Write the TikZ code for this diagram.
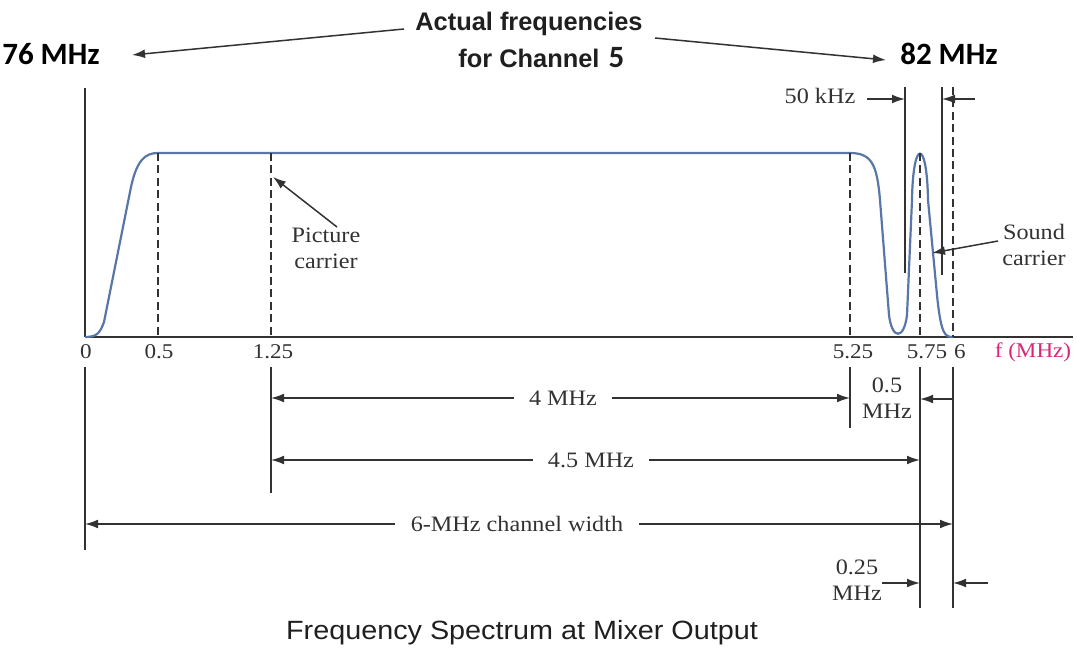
\documentclass[tikz,border=0pt]{standalone}
\usepackage{fontspec}
\setmainfont{Liberation Serif}[FakeStretch=1.1]
\newfontfamily\sansA{Liberation Sans}
\newfontfamily\sansT{Liberation Sans}[FakeStretch=1.09]
\newfontfamily\calib{Carlito}
\usetikzlibrary{arrows.meta}
\definecolor{curveblue}{RGB}{88,118,168}
\definecolor{axmag}{RGB}{214,40,120}
\definecolor{ink}{RGB}{50,50,50}
\begin{document}
\begin{tikzpicture}[x=0.5pt,y=-0.5pt,
  ln/.style={line width=0.75pt, draw=ink},
  dim/.style={line width=0.75pt, draw=ink, -{Latex[length=6.5pt,width=4.4pt]}},
  dsh/.style={line width=0.75pt, draw=ink, dash pattern=on 4pt off 2.2pt},
  lbl/.style={inner sep=0pt, font=\fontsize{11}{13}\selectfont, text=ink, align=center},
  dimlbl/.style={lbl, inner xsep=7.5pt},
  ticklbl/.style={inner sep=0pt, font=\fontsize{10.5}{12}\selectfont, text=ink},
  big/.style={inner sep=0pt, font=\calib\bfseries\fontsize{15.5}{18}\selectfont, text=black},
  topt/.style={inner sep=0pt, font=\sansA\bfseries\fontsize{12.7}{15}\selectfont, text=black!88},
  ]
\useasboundingbox (0,0) rectangle (1077,653);

% ---- top labels ----
\node[big] (f76) at (51,54) {76 MHz};
\node[big] (f82) at (949,54) {82 MHz};
\node[topt] (act) at (529,24) {Actual frequencies};
\node[topt, anchor=west] (ch) at (458,58) {for Channel\hspace{4.5pt}{\calib\bfseries\fontsize{15.5}{18}\selectfont 5}};
\coordinate (aL) at (404,29);
\coordinate (aR) at (655,38);
\coordinate (t76) at (132,55);
\coordinate (t82) at (886,60);
\draw[dim] (aL) -- (t76);
\draw[dim] (aR) -- (t82);

% ---- axes ----
\coordinate (o) at (85,337);
\coordinate (ytop) at (85,88);
\coordinate (e0) at (85,367);
\coordinate (ybot) at (85,550);
\coordinate (xend) at (1073,337);
\draw[ln] (ytop) -- (o);
\draw[ln] (e0) -- (ybot);
\draw[ln] (o) -- (xend);

% ---- spectrum curve ----
\draw[curveblue, line width=1.1pt, line join=round]
  (85,337) .. controls (97,337) and (100,333) .. (104,322)
  -- (130,192) .. controls (136,160) and (145,153) .. (158,153)
  -- (850,153) .. controls (872,153) and (877,165) .. (880,200)
  -- (889,315) .. controls (892,340) and (904,340) .. (907,315)
  -- (912,200) .. controls (913,138) and (927,138) .. (928,200)
  -- (937,295) .. controls (941,335) and (945,337) .. (953,337);

% ---- dashed markers ----
\coordinate (d05t) at (158,153);   \coordinate (d05b) at (158,337);
\coordinate (d125t) at (271,153);  \coordinate (d125b) at (271,337);
\coordinate (d525t) at (850,153);  \coordinate (d525b) at (850,337);
\coordinate (d575t) at (920,153);  \coordinate (d575b) at (920,337);
\coordinate (d6t) at (953,87);     \coordinate (d6b) at (953,337);
\draw[dsh] (d05t) -- (d05b);
\draw[dsh] (d125t) -- (d125b);
\draw[dsh] (d525t) -- (d525b);
\draw[dsh] (d575t) -- (d575b);
\draw[dsh] (d6t) -- (d6b);

% ---- 50 kHz guard lines ----
\coordinate (g1t) at (905,87); \coordinate (g1b) at (905,273);
\coordinate (g2t) at (942,87); \coordinate (g2b) at (942,275);
\draw[ln] (g1t) -- (g1b);
\draw[ln] (g2t) -- (g2b);
\node[lbl] (k50) at (820,96) {50 kHz};
\coordinate (k50a) at (867,99);
\coordinate (k50b) at (975,99);
\draw[dim] (k50a) -- (g1t |- k50a);
\draw[dim] (k50b) -- (g2t |- k50b);

% ---- carrier labels ----
\node[lbl] (pc) at (326,248) {Picture\\carrier};
\coordinate (pcs) at (337,227);
\coordinate (pct) at (273,177);
\draw[dim] (pcs) -- (pct);
\node[lbl] (sc) at (1034,245) {Sound\\carrier};
\coordinate (scs) at (998,241);
\coordinate (sct) at (932,253);
\draw[dim] (scs) -- (sct);

% ---- tick labels ----
\node[ticklbl] at (86,352) {0};
\node[ticklbl] at (159,352) {0.5};
\node[ticklbl] at (273,352) {1.25};
\node[ticklbl] at (853,352) {5.25};
\node[ticklbl] at (927,352) {5.75};
\node[ticklbl] at (960,352) {6};
\node[ticklbl, text=axmag] at (1033,352) {f (MHz)};

% ---- extension lines below axis ----
\coordinate (e125) at (271,367);  \coordinate (e125b) at (271,493);
\coordinate (e525) at (850,367);  \coordinate (e525b) at (850,428);
\coordinate (e575) at (920,367);  \coordinate (e575b) at (920,608);
\coordinate (e6) at (953,367);    \coordinate (e6b) at (953,608);
\draw[ln] (e125) -- (e125b);
\draw[ln] (e525) -- (e525b);
\draw[ln] (e575) -- (e575b);
\draw[ln] (e6) -- (e6b);

% ---- dimension lines ----
\node[dimlbl] (m4) at (563,398) {4 MHz};
\draw[dim] (m4.west) -- (m4.west -| e125);
\draw[dim] (m4.east) -- (m4.east -| e525);

\node[dimlbl] (m45) at (591,460) {4.5 MHz};
\draw[dim] (m45.west) -- (m45.west -| e125);
\draw[dim] (m45.east) -- (m45.east -| e575);

\node[dimlbl] (m6) at (517,524) {6-MHz channel width};
\draw[dim] (m6.west) -- (m6.west -| o);
\draw[dim] (m6.east) -- (m6.east -| e6);

\node[lbl] (m05) at (887,398) {0.5\\MHz};
\coordinate (m05a) at (953,399);
\draw[dim] (m05a) -- (m05a -| e575);

\node[lbl] (m025) at (857,580) {0.25\\MHz};
\coordinate (q1) at (882,583);
\coordinate (q2) at (988,583);
\draw[dim] (q1) -- (q1 -| e575);
\draw[dim] (q2) -- (q2 -| e6);

% ---- title ----
\node[inner sep=0pt, font=\sansT\fontsize{13.2}{15}\selectfont, text=black!88] (title) at (522,633) {Frequency Spectrum at Mixer Output};
\end{tikzpicture}
\end{document}
